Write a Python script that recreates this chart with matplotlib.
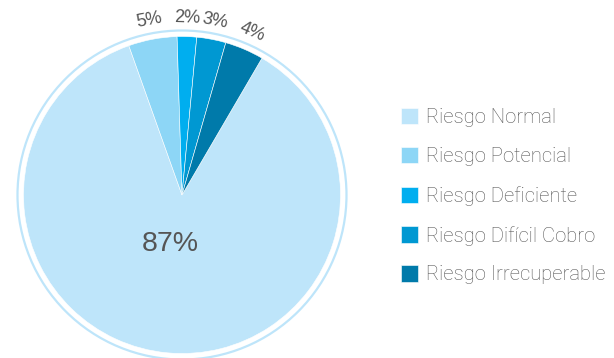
import numpy as np
import matplotlib.pyplot as plt
from matplotlib.patches import Circle

categorias = ['Riesgo Normal', 'Riesgo Potencial', 'Riesgo Deficiente',
              'Riesgo Difícil Cobro', 'Riesgo Irrecuperable']
porcentajes = [87, 5, 2, 3, 4]
colores = ['#bee5fa', '#8dd6f6', '#00aeef', '#0098d2', '#007aaa']

gris = '#555555'

fig = plt.figure(figsize=(6.14, 3.58), dpi=100)

# pie centred at (182, 195) px with a 158.5 px radius
W, H = 614, 358
cx, cy, r = 182, 195, 158.5
half = 172
ax = fig.add_axes([(cx - half) / W, (H - cy - half) / H, 2 * half / W, 2 * half / H])

wedges, _ = ax.pie(porcentajes, colors=colores, startangle=59.7, counterclock=False,
                   wedgeprops=dict(edgecolor='white', linewidth=0.4))

# thin outer ring
ax.add_patch(Circle((0, 0), 164.5 / r, fill=False, edgecolor='#bee5fa', linewidth=1.6))

lim = half / r
ax.set_xlim(-lim, lim)
ax.set_ylim(-lim, lim)
ax.set_aspect('equal')
ax.axis('off')

# big label inside, small ones outside following the circle
ax.text(-0.075, -0.31, '87%', ha='center', va='center', fontsize=20.5,
        color=gris, family='Liberation Sans')
for w, p in zip(wedges[1:], porcentajes[1:]):
    ang = (w.theta1 + w.theta2) / 2
    a = np.deg2rad(ang)
    ax.text(1.12 * np.cos(a), 1.12 * np.sin(a), f'{p}%', ha='center', va='center',
            rotation=ang - 90, rotation_mode='anchor', fontsize=13,
            color=gris, family='Liberation Sans')

leg = fig.legend(wedges, categorias, loc='upper left',
                 bbox_to_anchor=(391 / W, 1 - 98 / H),
                 frameon=False, handlelength=0.85, handleheight=0.85,
                 handletextpad=0.38, labelspacing=0.98, borderpad=0,
                 prop=dict(family='Roboto', weight='light', size=14.6))
for t in leg.get_texts():
    t.set_color(gris)

fig.savefig('out.png', dpi=100)
